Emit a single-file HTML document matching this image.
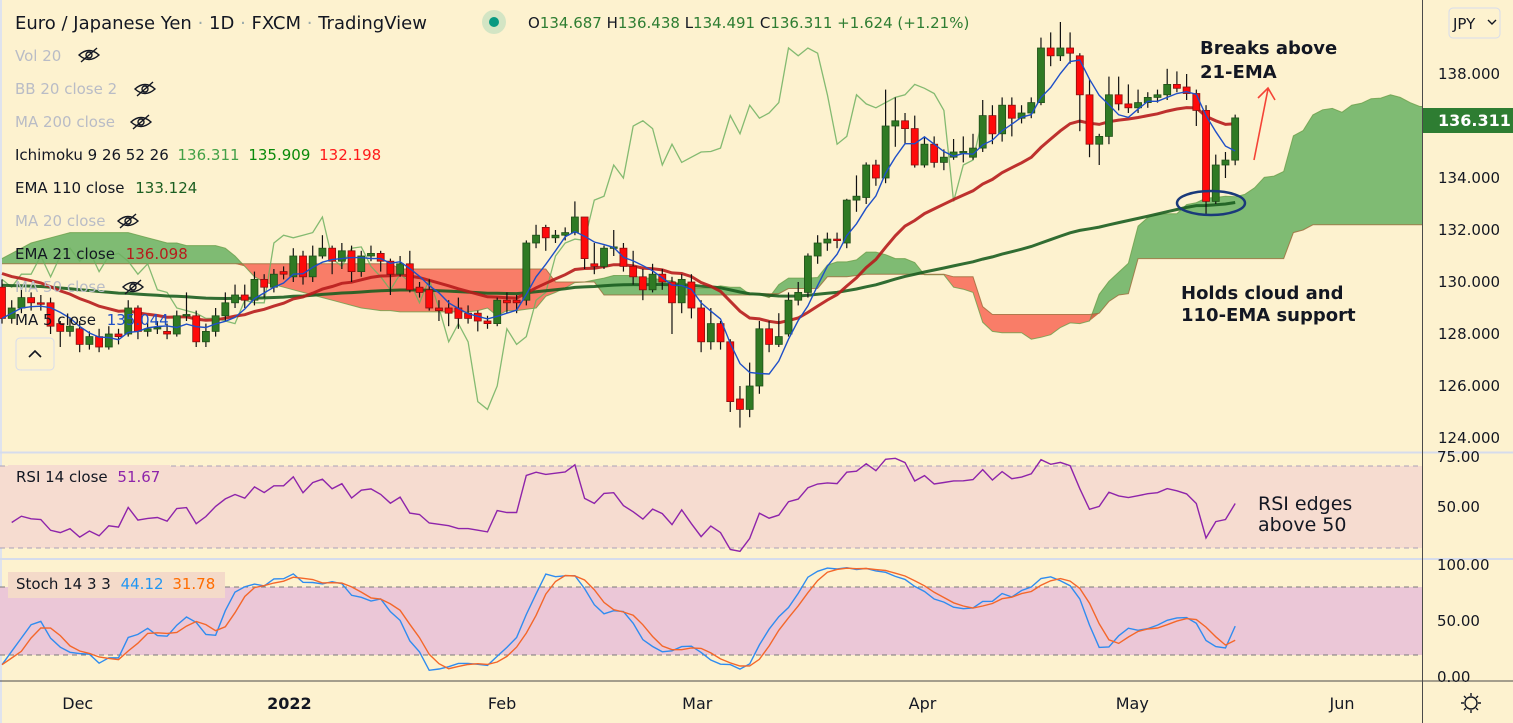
<!DOCTYPE html>
<html><head><meta charset="utf-8"><style>
html,body{margin:0;padding:0;background:#fdf2cf;}
svg{display:block;font-family:"DejaVu Sans","Liberation Sans",sans-serif;}
</style></head><body>
<svg id="chart" width="1513" height="723" viewBox="0 0 1513 723" xmlns="http://www.w3.org/2000/svg">
<defs>
<clipPath id="mainClip"><rect x="0" y="0" width="1422" height="452"/></clipPath>
<clipPath id="rsiClip"><rect x="0" y="453" width="1422" height="105"/></clipPath>
<clipPath id="stClip"><rect x="0" y="560" width="1422" height="121"/></clipPath>
</defs>
<rect x="0" y="0" width="1513" height="723" fill="#fdf2cf"/>
<rect x="0" y="0" width="2" height="723" fill="#dfe3ee"/>
<g id="mainPane" clip-path="url(#mainClip)"></g>
<rect x="0" y="466" width="1422" height="82" fill="#f6dcd0"/>
<line x1="0" y1="466" x2="1422" y2="466" stroke="#a9a1b8" stroke-dasharray="5,4"/>
<line x1="0" y1="548" x2="1422" y2="548" stroke="#a9a1b8" stroke-dasharray="5,4"/>
<g id="rsiPane" clip-path="url(#rsiClip)"></g>
<rect x="0" y="587" width="1422" height="68" fill="#ebc7d7"/>
<line x1="0" y1="587" x2="1422" y2="587" stroke="#7a7a7a" stroke-dasharray="5,4"/>
<line x1="0" y1="655" x2="1422" y2="655" stroke="#7a7a7a" stroke-dasharray="5,4"/>
<g id="stPane" clip-path="url(#stClip)"></g>
<line x1="0" y1="452.5" x2="1513" y2="452.5" stroke="#d6dcec" stroke-width="2"/>
<line x1="0" y1="559" x2="1513" y2="559" stroke="#d6dcec" stroke-width="2"/>
<line x1="0" y1="681" x2="1513" y2="681" stroke="#4a4a4a"/>
<line x1="1422.5" y1="0" x2="1422.5" y2="723" stroke="#4a4a4a"/>

<text x="15" y="29" font-size="18" fill="#131722">Euro / Japanese Yen <tspan fill="#9aa">·</tspan> 1D <tspan fill="#9aa">·</tspan> FXCM <tspan fill="#9aa">·</tspan> TradingView</text>
<circle cx="494" cy="22" r="12" fill="#d3e5c4"/>
<circle cx="494" cy="22" r="5" fill="#089981"/>
<text x="528" y="28" font-size="15" fill="#2e7d32"><tspan fill="#131722">O</tspan>134.687 <tspan fill="#131722">H</tspan>136.438 <tspan fill="#131722">L</tspan>134.491 <tspan fill="#131722">C</tspan>136.311 +1.624 (+1.21%)</text>

<g font-size="15">
<text x="15" y="61" fill="#b9bcc6">Vol 20</text>
<text x="15" y="94" fill="#b9bcc6">BB 20 close 2</text>
<text x="15" y="127" fill="#b9bcc6">MA 200 close</text>
<text x="15" y="160" fill="#131722">Ichimoku 9 26 52 26 <tspan dx="4" fill="#43a047">136.311</tspan> <tspan dx="4" fill="#0a8a0a">135.909</tspan> <tspan dx="4" fill="#ff1a1a">132.198</tspan></text>
<text x="15" y="193" fill="#131722">EMA 110 close <tspan dx="6" fill="#1b5e20">133.124</tspan></text>
<text x="15" y="226" fill="#b9bcc6">MA 20 close</text>
<text x="15" y="259" fill="#131722">EMA 21 close <tspan dx="6" fill="#b71c1c">136.098</tspan></text>
<text x="15" y="292" fill="#b9bcc6">MA 50 close</text>
<text x="15" y="325" fill="#131722">MA 5 close <tspan dx="6" fill="#1e4fc8">135.044</tspan></text>
</g>
<g id="eyes" stroke="#131722" fill="none" stroke-width="1.4"></g>
<rect x="16" y="338" width="38" height="32" rx="4" fill="#fdf2cf" stroke="#d6dcec"/>
<path d="M29 357 L35 351 L41 357" fill="none" stroke="#131722" stroke-width="1.6"/>

<g font-size="18" font-weight="bold" fill="#131722">
<text x="1200" y="54">Breaks above</text>
<text x="1200" y="78">21-EMA</text>
<text x="1181" y="299">Holds cloud and</text>
<text x="1181" y="321">110-EMA support</text>
<text x="1258" y="510" font-weight="normal" font-size="19">RSI edges</text>
<text x="1258" y="531" font-weight="normal" font-size="19">above 50</text>
</g>
<g stroke="#f44336" stroke-width="1.6" fill="none">
<line x1="1254" y1="160" x2="1268" y2="89"/>
<path d="M1258 98 L1268 88 L1275 100"/>
</g>
<ellipse cx="1211" cy="203" rx="34" ry="12" fill="none" stroke="#1a3a7a" stroke-width="2.5"/>

<g id="priceAxis" font-size="15" fill="#131722"></g>
<rect x="1423" y="108" width="90" height="25" fill="#2e7d32"/>
<text x="1438" y="126" font-size="16" font-weight="bold" fill="#ffffff">136.311</text>
<rect x="1449" y="8" width="51" height="30" rx="4" fill="#fdf2cf" stroke="#d6dcec"/>
<text x="1453" y="29" font-size="15" fill="#131722">JPY</text>
<path d="M1488 20 L1492 24 L1496 20" fill="none" stroke="#131722" stroke-width="1.4"/>
<g font-size="15" fill="#131722">
<text x="1437" y="462">75.00</text>
<text x="1437" y="512">50.00</text>
</g>
<g font-size="15" fill="#131722">
<text x="1437" y="570">100.00</text>
<text x="1437" y="626">50.00</text>
<text x="1437" y="682">0.00</text>
</g>
<g>
<rect x="8" y="465" width="162" height="24" fill="#f6dcd0"/>
<text x="16" y="482" font-size="15" fill="#131722">RSI 14 close <tspan dx="5" fill="#8e24aa">51.67</tspan></text>
<rect x="8" y="572" width="217" height="26" fill="#f4dac9"/>
<text x="16" y="589" font-size="15" fill="#131722">Stoch 14 3 3 <tspan dx="5" fill="#2196f3">44.12</tspan> <tspan dx="4" fill="#ff6d00">31.78</tspan></text>
</g>
<g id="timeAxis" font-size="16" fill="#131722" text-anchor="middle"></g>
<g stroke="#131722" fill="none" stroke-width="1.4">
<circle cx="1471" cy="703" r="6"/>
<path d="M1471 693v3M1471 710v3M1461 703h3M1478 703h3M1464 696l2 2M1476 708l2 2M1464 710l2-2M1476 698l2-2"/>
</g>
</svg>
<script>
const opens=[129.8,128.6,129.0,129.4,129.2,129.2,128.4,128.1,128.2,127.6,127.9,127.5,128.0,128.0,129.0,128.1,128.2,128.1,128.0,128.7,128.7,127.7,128.1,128.7,129.2,129.5,129.3,130.1,129.8,130.4,130.2,131.0,130.2,131.0,131.3,130.8,131.2,130.4,131.0,131.1,130.8,130.3,130.7,129.8,129.7,129.0,129.0,129.0,128.8,128.8,128.5,128.4,129.3,129.3,129.3,131.5,132.1,131.7,131.8,131.9,132.5,130.7,130.6,131.3,131.3,130.6,130.2,129.7,130.3,130.0,129.2,130.0,129.0,127.7,128.4,127.7,125.5,125.1,126.0,128.2,127.6,128.0,129.3,129.6,131.0,131.5,131.65,131.5,133.15,133.25,134.5,134.0,136.0,136.2,135.9,134.5,135.3,134.6,134.8,135.0,134.8,135.15,136.4,135.7,136.8,136.3,136.5,136.9,139.0,138.7,139.0,138.7,137.2,135.3,135.6,137.2,136.85,136.7,136.9,137.1,137.2,137.6,137.5,137.25,136.6,133.1,134.5,134.687];
const closes=[128.6,129.0,129.4,129.2,129.15,128.3,128.1,128.3,127.6,127.9,127.5,128.0,127.9,129.0,128.1,128.2,128.25,128.0,128.7,128.75,127.7,128.1,128.7,129.2,129.5,129.3,130.1,129.8,130.3,130.3,131.0,130.2,131.0,131.3,130.8,131.2,130.4,131.0,131.1,130.8,130.3,130.7,129.7,129.6,129.0,128.9,128.8,128.6,128.6,128.5,128.4,129.3,129.2,129.2,131.5,131.8,131.7,131.8,131.9,132.5,130.9,130.6,131.3,131.35,130.6,130.2,129.7,130.3,130.0,129.2,130.1,129.0,127.7,128.4,127.7,125.4,125.1,126.0,128.2,127.6,127.9,129.3,129.6,131.0,131.5,131.65,131.6,133.15,133.3,134.5,134.0,136.0,136.2,135.9,134.5,135.3,134.6,134.8,135.0,135.02,135.15,136.4,135.7,136.8,136.3,136.5,136.9,139.0,138.7,139.0,138.8,137.2,135.3,135.6,137.2,136.85,136.7,136.9,137.1,137.2,137.6,137.45,137.25,136.6,133.1,134.5,134.69,136.311];
const highs=[130.1,129.3,129.7,129.6,129.5,129.4,128.5,128.6,128.5,128.1,128.2,128.3,128.2,129.3,129.1,128.5,128.5,128.4,128.9,129.6,128.9,128.4,129.0,129.6,129.9,129.9,130.4,130.3,130.5,130.6,131.3,131.2,131.4,131.8,131.4,131.5,131.4,131.2,131.4,131.2,130.9,131.0,131.2,130.0,130.1,129.3,129.3,129.4,129.1,128.9,128.7,129.4,129.6,129.5,131.6,132.2,132.2,132.0,132.1,133.1,132.5,131.5,131.4,132.0,131.5,131.2,130.5,130.7,130.5,130.2,130.3,130.3,129.3,129.0,128.5,127.8,126.0,126.9,128.5,128.5,128.8,129.6,130.0,131.1,131.8,131.9,131.9,133.2,134.1,134.6,134.7,137.4,137.1,136.5,136.4,135.6,135.6,135.1,135.5,135.6,135.7,137.0,136.8,137.1,137.1,136.8,137.1,139.4,139.6,140.0,139.6,138.8,137.8,135.7,137.9,137.9,137.6,137.4,137.3,137.4,138.2,138.1,138.0,137.4,136.8,134.9,135.0,136.438];
const lows=[128.4,128.4,128.8,128.9,128.9,128.0,127.5,127.9,127.3,127.4,127.3,127.4,127.6,127.9,127.8,127.9,128.0,127.8,127.9,128.5,127.5,127.5,127.9,128.5,129.0,129.0,129.1,129.4,129.6,130.1,130.0,129.9,130.0,130.9,130.3,130.5,130.0,130.2,130.8,130.4,129.5,130.2,129.6,129.4,128.9,128.5,128.3,128.2,128.4,128.1,128.2,128.3,128.8,128.8,129.1,131.3,131.2,131.5,131.6,131.8,130.5,130.3,130.5,131.0,130.4,129.9,129.3,129.6,129.7,128.0,128.8,128.6,127.3,127.4,127.4,125.0,124.4,124.8,125.7,127.3,127.5,127.9,129.1,129.4,130.7,131.2,131.3,131.3,132.7,133.0,133.7,133.8,135.2,135.3,134.4,134.4,134.4,134.3,134.7,134.6,134.7,135.0,135.3,135.4,135.6,136.1,136.3,136.8,138.3,138.5,138.4,135.8,134.8,134.5,135.3,136.6,136.5,136.5,136.7,136.9,137.0,137.3,137.0,136.0,132.6,133.0,134.0,134.491];
const spanAEarly=[130.9,131.1,131.3,131.5,131.6,131.7,131.8,131.9,131.9,131.9,131.9,131.9,131.9,131.9,131.8,131.7,131.6,131.5,131.5,131.4,131.4,131.4,131.4,131.3,131.0,130.6,130.2,130.0,129.9,129.8,129.7,129.6,129.5,129.4,129.3,129.2,129.1,129.0,128.95,128.9,128.9,128.85,128.85,128.85,128.85,128.85,128.85,128.85,128.85,128.9,129.0];
const spanBEarly=[130.7,130.7,130.7,130.7,130.7,130.7,130.7,130.7,130.7,130.7,130.7,130.7,130.7,130.7,130.7,130.7,130.7,130.7,130.7,130.7,130.7,130.7,130.7,130.7,130.7,130.7,130.7,130.7,130.7,130.7,130.7,130.7,130.7,130.7,130.7,130.7,130.7,130.7,130.7,130.7,130.7,130.5,130.5,130.5,130.5,130.5,130.5,130.5,130.5,130.5,130.5,130.5,130.5,130.5,130.5,130.5,130.5,130.0,130.0,130.0,130.0,130.0,129.5,129.5,129.5,129.5,129.5,129.5,129.5,129.5,129.5,129.5,129.5,129.5,129.5,129.5,129.5,129.5];
const priceTicks=[138,136,134,132,130,128,126,124];
const monthLabels=["Dec","2022","Feb","Mar","Apr","May","Jun"];
const monthBars=[7.8,29.6,51.5,71.6,94.8,116.4,138.0];
const ema21Seed=130.5, ema110Seed=129.9;
const rsiSeedGain=0.22, rsiSeedLoss=0.34;

const BAR=9.71, X0=2;
function xOf(i){return X0+i*BAR;}
function yP(p){return 74+(138-p)*26;}
function yR(v){return 507-(v-50)*2.05;}
function yS(v){return 678-v*1.133;}
const NS="http://www.w3.org/2000/svg";
function mk(tag,attrs,parent){const e=document.createElementNS(NS,tag);for(const k in attrs)e.setAttribute(k,attrs[k]);parent.appendChild(e);return e;}
function pathD(vals,xf,yf,start){let d="";vals.forEach((v,k)=>{if(v==null||isNaN(v))return;const i=start+k;d+=(d?"L":"M")+xf(i).toFixed(1)+" "+yf(v).toFixed(1);});return d;}
const N=closes.length;
const main=document.getElementById('mainPane');

function emaCalc(seed,n){const a=2/(n+1);let e=seed;return closes.map(c=>(e=e+a*(c-e)));}
const ema21=emaCalc(ema21Seed,21), ema110=emaCalc(ema110Seed,110);
const ma5=closes.map((c,i)=>{const s=closes.slice(Math.max(0,i-4),i+1);return s.reduce((a,b)=>a+b,0)/s.length;});
function midRange(i,n){let hi=-1e9,lo=1e9;for(let k=Math.max(0,i-n+1);k<=i;k++){hi=Math.max(hi,highs[k]);lo=Math.min(lo,lows[k]);}return (hi+lo)/2;}
const tenkan=closes.map((c,i)=>midRange(i,9)), kijun=closes.map((c,i)=>midRange(i,26)), sB=closes.map((c,i)=>midRange(i,52));
const spanA=[],spanB=[];
for(let i=0;i<N+26;i++){
  spanA.push(i<spanAEarly.length?spanAEarly[i]:(tenkan[i-26]+kijun[i-26])/2);
  spanB.push(i<spanBEarly.length?spanBEarly[i]:sB[i-26]);
}
const chikou=closes.slice(26);

// cloud: green = between A and min(A,B); red = between B and min(A,B)
function bandPts(top,bot){let s=[];top.forEach((v,i)=>s.push(xOf(i).toFixed(1)+","+yP(v).toFixed(1)));for(let i=bot.length-1;i>=0;i--)s.push(xOf(i).toFixed(1)+","+yP(bot[i]).toFixed(1));return s.join(" ");}
const minAB=spanA.map((a,i)=>Math.min(a,spanB[i]));
let cg=mk('polygon',{points:bandPts(spanA,minAB),fill:'rgba(67,160,71,0.68)'},main);


let cr=mk('polygon',{points:bandPts(spanB,minAB),fill:'rgba(246,70,55,0.68)'},main);


let l=mk('path',{d:pathD(spanA,xOf,yP,0),fill:'none',stroke:'#6a9f4a','stroke-width':1,opacity:0.8},main);


l=mk('path',{d:pathD(spanB,xOf,yP,0),fill:'none',stroke:'#9c6a3a','stroke-width':1,opacity:0.8},main);


l=mk('path',{d:pathD(chikou,xOf,yP,0),fill:'none',stroke:'#6fb060','stroke-width':1.3,opacity:0.85},main);


l=mk('path',{d:pathD(ema110,xOf,yP,0),fill:'none',stroke:'#1b5e20','stroke-width':3,opacity:0.9},main);


l=mk('path',{d:pathD(ema21,xOf,yP,0),fill:'none',stroke:'#b71c1c','stroke-width':3,opacity:0.9},main);



for(let i=0;i<N;i++){
  const up=closes[i]>=opens[i], x=xOf(i);
  const w=mk('line',{x1:x,x2:x,y1:yP(highs[i]),y2:yP(lows[i]),stroke:'#111','stroke-width':1.2},main);
  
  
  const top=yP(Math.max(opens[i],closes[i])), bot=yP(Math.min(opens[i],closes[i]));
  const b=mk('rect',{x:x-3.5,y:top,width:7,height:Math.max(1.5,bot-top),fill:up?'#2f7a24':'#ff0a0a',stroke:up?'#1f4f18':'#8a1010','stroke-width':0.8},main);
  
  
}
l=mk('path',{d:pathD(ma5,xOf,yP,0),fill:'none',stroke:'#1e4fc8','stroke-width':1.4},main);



const rsi=[];{let ag=rsiSeedGain,al=rsiSeedLoss;for(let i=1;i<N;i++){const ch=closes[i]-closes[i-1];const g=Math.max(ch,0),lo=Math.max(-ch,0);ag=ag+(g-ag)/14;al=al+(lo-al)/14;rsi.push(al===0?100:100-100/(1+ag/al));}}
l=mk('path',{d:pathD(rsi,xOf,yR,1),fill:'none',stroke:'#8e24aa','stroke-width':1.4},document.getElementById('rsiPane'));



const raw=closes.map((c,i)=>{let hi=-1e9,lo=1e9;for(let k=Math.max(0,i-13);k<=i;k++){hi=Math.max(hi,highs[k]);lo=Math.min(lo,lows[k]);}return hi===lo?50:100*(c-lo)/(hi-lo);});
function sma3(a){return a.map((v,i)=>{const s=a.slice(Math.max(0,i-2),i+1);return s.reduce((x,y)=>x+y,0)/s.length;});}
const kLine=sma3(raw), dLine=sma3(kLine);
const st=document.getElementById('stPane');
l=mk('path',{d:pathD(kLine,xOf,yS,0),fill:'none',stroke:'#2f8cf0','stroke-width':1.4},st);


l=mk('path',{d:pathD(dLine,xOf,yS,0),fill:'none',stroke:'#f4672a','stroke-width':1.4},st);



const pa=document.getElementById('priceAxis');
priceTicks.forEach(p=>{
  const t=mk('text',{x:1438,y:yP(p)+5},pa);t.textContent=p.toFixed(3);
  
  
});
const ta=document.getElementById('timeAxis');
monthLabels.forEach((m,k)=>{
  const t=mk('text',{x:xOf(monthBars[k]),y:709},ta);t.textContent=m;
  if(m==="2022")t.setAttribute('font-weight','bold');
  
  
});
const eyes=document.getElementById('eyes');
[[89,55],[145,89],[141,122],[128,221],[133,287]].forEach(([x,y])=>{
  const g=mk('g',{transform:`translate(${x},${y})`},eyes);
  
  
  mk('path',{d:'M-10 0 Q0 -9 10 0 Q0 9 -10 0 Z'},g);
  mk('circle',{cx:0,cy:0,r:3},g);
  mk('line',{x1:-8,y1:7,x2:8,y2:-7},g);
});
</script>
</body></html>
